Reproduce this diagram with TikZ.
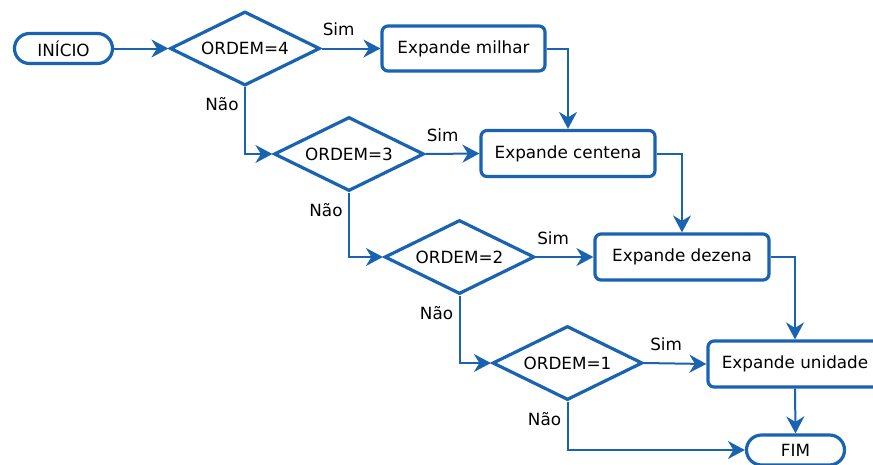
\documentclass[tikz,border=0pt]{standalone}
\usepackage{fontspec}
\setmainfont{DejaVu Sans}
\usetikzlibrary{shapes.geometric,arrows.meta}
\definecolor{flowblue}{RGB}{25,99,176}
\begin{document}
\begin{tikzpicture}[x=1pt,y=-1pt,
  font=\fontsize{16.8}{20}\selectfont,
  terminal/.style={draw=flowblue, line width=3.2pt, rounded corners=15pt,
    minimum width=98pt, minimum height=30pt, inner sep=0pt},
  process/.style={draw=flowblue, line width=3.2pt, rounded corners=6pt,
    minimum width=174pt, minimum height=46pt, inner sep=0pt},
  decision/.style={draw=flowblue, line width=3.2pt, diamond, aspect=2,
    minimum width=150pt, minimum height=74pt, inner sep=0pt},
  flow/.style={draw=flowblue, line width=2pt,
    -{Stealth[length=17pt, width=18pt, inset=5.5pt]}},
  yes/.style={pos=0, xshift=17pt, yshift=19pt},
  no/.style={pos=0, xshift=-23pt, yshift=-17pt}]
\useasboundingbox (0,0) rectangle (873,464);

% nodes
\node[terminal] (ini) at (63.5,48.5) {INÍCIO};
\node[decision] (d4) at (245,48.5) {ORDEM=4};
\node[process, minimum width=163pt, minimum height=45pt] (mil) at (463.5,48.5) {Expande milhar};
\node[decision] (d3) at (349,154) {ORDEM=3};
\node[process] (cen) at (568,153.5) {Expande centena};
\node[decision] (d2) at (459.5,257) {ORDEM=2};
\node[process] (dez) at (682,257) {Expande dezena};
\node[decision] (d1) at (567.5,363) {ORDEM=1};
\node[process] (uni) at (795,364) {Expande unidade};
\node[terminal] (fim) at (795.5,450) {FIM};

% connectors
\draw[flow] (ini) -- (d4);
\draw[flow] (d4.east) -- node[yes] {Sim} (mil.west);
\draw[flow] (d4.south) |- node[no] {Não} (d3.west);
\draw[flow] (mil.east) -| (cen.north);
\draw[flow] (d3.east) -- node[yes] {Sim} (cen.west);
\draw[flow] (d3.south) |- node[no] {Não} (d2.west);
\draw[flow] (cen.east) -| (dez.north);
\draw[flow] (d2.east) -- node[yes] {Sim} (dez.west);
\draw[flow] (d2.south) |- node[no] {Não} (d1.west);
\draw[flow] (dez.east) -| (uni.north);
\draw[flow] (d1.east) -- node[yes, xshift=5pt] {Sim} (uni.west);
\draw[flow] (d1.south) |- node[no] {Não} (fim.west);
\draw[flow] (uni.south) -- (fim.north);
\end{tikzpicture}
\end{document}
